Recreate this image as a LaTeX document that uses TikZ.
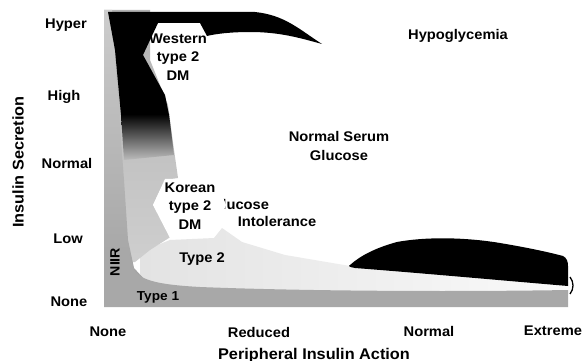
\documentclass[tikz,border=0pt]{standalone}
\usepackage{fontspec}
\setmainfont{Liberation Sans}[FakeStretch=1.05]
\begin{document}
\begin{tikzpicture}[x=1pt,y=-1pt,
  lbl/.style={font=\fontsize{14}{18.5}\selectfont\bfseries, inner sep=0pt, align=center, text=black},
  ttl/.style={lbl, font=\fontsize{15.5}{18}\selectfont\bfseries},
  midgray/.style={top color=gray!60, bottom color=gray!38},
  strip/.style={top color=gray!40, bottom color=gray!72},
  bandfill/.style={fill=gray!68},
  lightfill/.style={left color=gray!22, right color=gray!4}]
\useasboundingbox (0,0) rectangle (582,361);
\fill[white] (0,0) rectangle (582,361);
% light stipple region (glucose intolerance / type 2)
\shade[lightfill] (140,252) -- (170,240) -- (214,238) -- (222,228) -- (242,242)
  -- (285,255) -- (350,266) -- (450,274) -- (570,282) -- (570,294) -- (140,294) -- cycle;
% medium gray region (Korean type 2 DM zone)
\shade[midgray] (104,10) -- (150,10) -- (150,60) -- (168,105) -- (174,150) -- (178,178)
  -- (165,180) -- (153,205) -- (172,236) -- (150,250) -- (135,262) -- (104,262) -- cycle;
% dark left strip
\shade[strip] (104,10) -- (112,10) -- (118,100) -- (124,180) -- (128,240) -- (134,268)
  -- (145,280) -- (104,282) -- cycle;
% Western type 2 DM (black)
\fill[black] (108,12) -- (255,12) .. controls (285,15) and (300,30) .. (322,44)
  .. controls (300,38) and (280,32) .. (250,32) .. controls (230,32) and (215,34) .. (207,36)
  -- (200,23) -- (158,23) -- (143,55) -- (165,95) -- (169,115) -- (121,115) -- (115,50) -- cycle;
\shade[top color=black, bottom color=gray!52] (121,114) -- (169,114) -- (174,155) -- (124,160) -- cycle;
% Glucose text partly hidden by the Korean cut-out
\node[lbl] (gluc) at (240,204) {Glucose};
% Korean type 2 DM cut-out
\fill[white] (165,179) -- (216,179) -- (226,205) -- (214,236) -- (170,238) -- (153,205) -- cycle;
% Type 1 band
\fill[bandfill] (104,307) -- (568,307) -- (568,290) .. controls (450,292) and (300,291) .. (200,287)
  .. controls (165,285) and (145,282) .. (135,272) -- (128,250) -- (104,250) -- cycle;
% Hypoglycemia region (black, bottom right)
\fill[black] (350,265) .. controls (360,256) and (375,248) .. (397,242)
  .. controls (430,236) and (470,238) .. (500,243) .. controls (530,248) and (552,253) .. (563,256)
  .. controls (567,258) and (568,262) .. (568,266) -- (568,286)
  .. controls (520,282) and (420,273) .. (355,268) .. controls (349,267) and (348,266) .. (350,265) -- cycle;
\draw[line width=1.3pt] (570,277) .. controls (574,282) and (574,289) .. (570,294);
% y axis labels
\node[lbl] (yhyper) at (66,25) {Hyper};
\node[lbl] (yhigh) at (64,97) {High};
\node[lbl] (ynormal) at (67,163) {Normal};
\node[lbl] (ylow) at (68,239) {Low};
\node[lbl] (ynone) at (69,302) {None};
\node[ttl, rotate=90] (ytitle) at (18,162) {Insulin Secretion};
% x axis labels
\node[lbl] (xnone) at (108,332) {None};
\node[lbl] (xred) at (259,332) {Reduced};
\node[lbl] (xnormal) at (429,331) {Normal};
\node[lbl] (xext) at (553,331) {Extreme};
\node[ttl] (xtitle) at (314,355) {Peripheral Insulin Action};
% region labels
\node[lbl] (hypo) at (458,36) {Hypoglycemia};
\node[lbl] (normal) at (339,146) {Normal Serum\\Glucose};
\node[lbl] (western) at (178,57) {Western\\type 2\\DM};
\node[lbl] (korean) at (190,206) {Korean\\type 2\\DM};
\node[lbl] (intol) at (277,221) {Intolerance};
\node[lbl] (type2) at (202,259) {Type 2};
\node[lbl, font=\fontsize{13}{15}\selectfont\bfseries] (type1) at (158,297) {Type 1};
\node[lbl, rotate=90, font=\fontsize{13.5}{15}\selectfont\bfseries] (niir) at (115,262) {NIIR};
\end{tikzpicture}
\end{document}
